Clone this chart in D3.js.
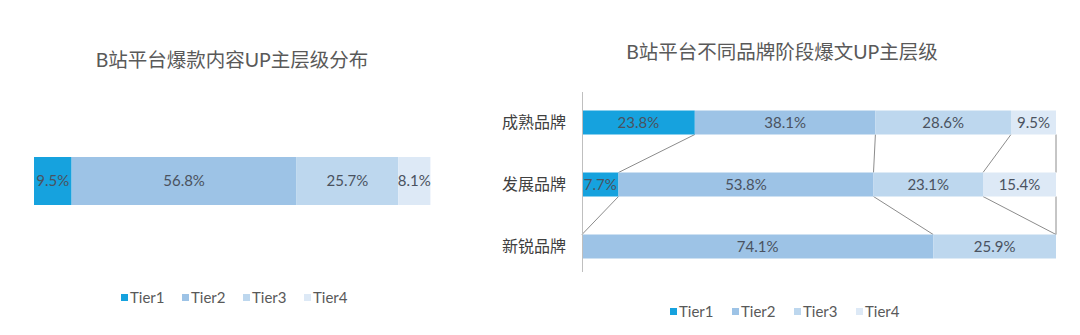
<!DOCTYPE html>
<html>
<head>
<meta charset="utf-8">
<script src="https://cdn.jsdelivr.net/npm/d3@7"></script>
<style>
  body { margin: 0; background: #fff; }
  svg { font-family: Lato, "Noto Sans CJK SC", sans-serif; }
</style>
</head>
<body>
<div class="chart"></div>
<script>
// tiers and colours
const tiers = ["Tier1", "Tier2", "Tier3", "Tier4"];
const tierColors = ["#16a2de", "#9dc3e6", "#bdd7ee", "#dde9f6"];

// left chart: overall distribution
const overallValues = [9.5, 56.8, 25.7, 8.1];

// right chart: by brand stage
const brandStages = ["成熟品牌", "发展品牌", "新锐品牌"];
const tier1Values = [23.8, 7.7, 0];
const tier2Values = [38.1, 53.8, 74.1];
const tier3Values = [28.6, 23.1, 25.9];
const tier4Values = [9.5, 15.4, 0];

const width = 1080;
const height = 335;
const labelColor = "#4a5260";
const textColor = "#595959";

const svg = d3.select(".chart")
  .append("svg")
  .attr("width", width)
  .attr("height", height);

const color = d3.scaleOrdinal(tiers, tierColors);

// stack helper -> [{tier, x0, x1, value}]
function stackRow(values) {
  let acc = 0;
  return values.map((v, i) => {
    const seg = { tier: tiers[i], value: v, x0: acc, x1: acc + v };
    acc += v;
    return seg;
  });
}

function legend(g, x0, y, gap) {
  const item = g.selectAll("g")
    .data(tiers)
    .join("g")
    .attr("transform", (d, i) => `translate(${x0 + i * gap},${y})`);
  item.append("rect")
    .attr("x", 0).attr("y", -4)
    .attr("width", 7).attr("height", 7)
    .attr("fill", color);
  item.append("text")
    .attr("x", 9).attr("y", 0)
    .attr("dy", "0.35em")
    .attr("font-size", 15)
    .attr("fill", textColor)
    .text(d => d);
}

/* ---------- left chart ---------- */
const left = svg.append("g");

left.append("text")
  .attr("x", 232).attr("y", 60)
  .attr("dy", "0.35em")
  .attr("text-anchor", "middle")
  .attr("font-size", 19.5)
  .attr("fill", textColor)
  .text("B站平台爆款内容UP主层级分布");

const xLeft = d3.scaleLinear().domain([0, 100]).range([34, 430]);
const leftSegs = stackRow(overallValues);

left.selectAll("rect.seg")
  .data(leftSegs)
  .join("rect")
  .attr("class", "seg")
  .attr("x", d => xLeft(d.x0))
  .attr("width", d => xLeft(d.x1) - xLeft(d.x0))
  .attr("y", 157)
  .attr("height", 48)
  .attr("fill", d => color(d.tier));

left.selectAll("text.val")
  .data(leftSegs)
  .join("text")
  .attr("class", "val")
  .attr("x", d => (xLeft(d.x0) + xLeft(d.x1)) / 2)
  .attr("y", 181)
  .attr("dy", "0.35em")
  .attr("text-anchor", "middle")
  .attr("font-size", 15)
  .attr("fill", labelColor)
  .text(d => d.value.toFixed(1) + "%");

legend(left.append("g"), 121, 298, 61);

/* ---------- right chart ---------- */
const right = svg.append("g");

right.append("text")
  .attr("x", 782).attr("y", 52)
  .attr("dy", "0.35em")
  .attr("text-anchor", "middle")
  .attr("font-size", 19.5)
  .attr("fill", textColor)
  .text("B站平台不同品牌阶段爆文UP主层级");

const xRight = d3.scaleLinear().domain([0, 100]).range([582, 1056]);
const yRight = d3.scalePoint().domain(brandStages).range([122.5, 246.5]);
const barH = 24;

const rows = brandStages.map((s, i) => ({
  stage: s,
  segs: stackRow([tier1Values[i], tier2Values[i], tier3Values[i], tier4Values[i]])
}));

// series lines between rows
const links = [];
for (let r = 0; r < rows.length - 1; r++) {
  rows[r].segs.forEach((seg, k) => {
    links.push({
      x1: xRight(seg.x1), y1: yRight(rows[r].stage) + barH / 2,
      x2: xRight(rows[r + 1].segs[k].x1), y2: yRight(rows[r + 1].stage) - barH / 2
    });
  });
}
right.selectAll("line.link")
  .data(links)
  .join("line")
  .attr("class", "link")
  .attr("x1", d => d.x1).attr("y1", d => d.y1)
  .attr("x2", d => d.x2).attr("y2", d => d.y2)
  .attr("stroke", "#8c8c8c")
  .attr("stroke-width", 1);

const rowG = right.selectAll("g.row")
  .data(rows)
  .join("g")
  .attr("class", "row")
  .attr("transform", d => `translate(0,${yRight(d.stage)})`);

rowG.selectAll("rect")
  .data(d => d.segs.filter(s => s.value > 0))
  .join("rect")
  .attr("x", d => xRight(d.x0))
  .attr("width", d => xRight(d.x1) - xRight(d.x0))
  .attr("y", -barH / 2)
  .attr("height", barH)
  .attr("fill", d => color(d.tier));

rowG.selectAll("text.val")
  .data(d => d.segs.filter(s => s.value > 0))
  .join("text")
  .attr("class", "val")
  .attr("x", d => (xRight(d.x0) + xRight(d.x1)) / 2)
  .attr("dy", "0.35em")
  .attr("text-anchor", "middle")
  .attr("font-size", 15)
  .attr("fill", labelColor)
  .text(d => d.value.toFixed(1) + "%");

// category axis
const yAxis = right.append("g")
  .attr("transform", `translate(${xRight(0)},0)`)
  .call(d3.axisLeft(yRight).tickSize(0).tickPadding(16));
yAxis.select(".domain")
  .attr("d", "M0.5,92V272")
  .attr("stroke", "#bfbfbf");
yAxis.selectAll("text")
  .attr("font-size", 16)
  .attr("font-family", "'Noto Sans CJK SC', sans-serif")
  .attr("fill", "#404040");

legend(right.append("g"), 670, 312, 62);
</script>
</body>
</html>
